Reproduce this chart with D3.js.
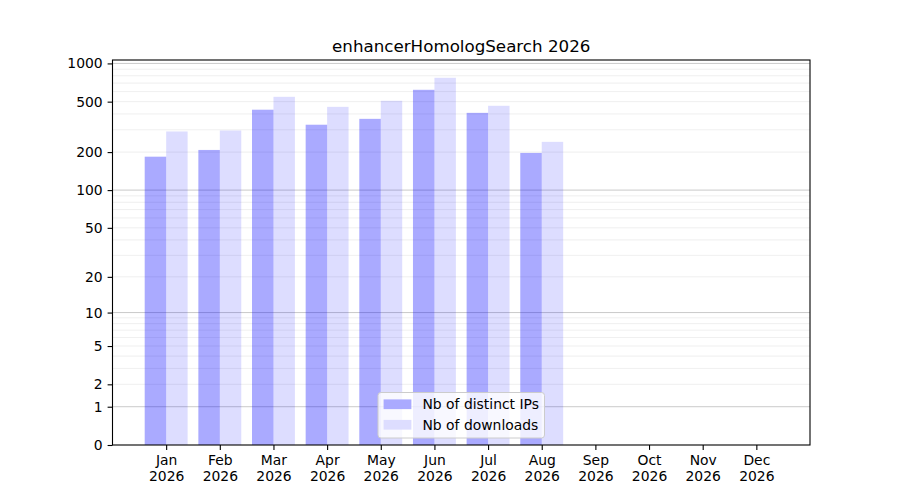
<!DOCTYPE html>
<html>
<head>
<meta charset="UTF-8">
<title>enhancerHomologSearch 2026</title>
<script src="https://cdn.jsdelivr.net/npm/d3@7"></script>
<style>
	body { margin: 0; background: #fff; }
	svg, .axis { font-family: "DejaVu Sans", sans-serif; }
	.axis path, .axis line { stroke: #000; stroke-width: 1.1px; }
	.axis text { font-size: 13.9px; fill: #000; }
</style>
</head>
<body>
<div id="chart"></div>
<script>
// values
var months = ["Jan", "Feb", "Mar", "Apr", "May", "Jun", "Jul", "Aug", "Sep", "Oct", "Nov", "Dec"];
var year = "2026";
var distinctIPs = [184, 208, 432, 329, 366, 620, 408, 197];
var downloads = [291, 296, 546, 455, 508, 771, 464, 241];
var yTicks = [0, 1, 2, 5, 10, 20, 50, 100, 200, 500, 1000];
var majorGrid = [1, 10, 100, 1000];
var minorGrid = [2, 3, 4, 5, 6, 7, 8, 9, 20, 30, 40, 50, 60, 70, 80, 90, 200, 300, 400, 500, 600, 700, 800, 900];
var seriesNames = ["Nb of distinct IPs", "Nb of downloads"];
var seriesColors = ["#aaaaff", "#ddddff"];

var width = 900, height = 500;
// plot area (don't call it "top", that's window.top)
var pLeft = 112.5, pRight = 810, pTop = 60, pBottom = 445;

var svg = d3.select("#chart").append("svg")
	.attr("width", width)
	.attr("height", height);

// log(1+y) scale, same as symlog with constant 1
var y = d3.scaleSymlog().constant(1)
	.domain([0, 1064])
	.range([pBottom, pTop]);

var x = d3.scaleLinear()
	.domain([-1, 12])
	.range([pLeft, pRight]);

// grid first, bars are see-through like the original
svg.append("g").selectAll("line")
	.data(minorGrid)
	.enter().append("line")
		.attr("x1", pLeft).attr("x2", pRight)
		.attr("y1", function(d){ return y(d); })
		.attr("y2", function(d){ return y(d); })
		.attr("stroke", "#ebebeb")
		.attr("stroke-width", 0.8);

svg.append("g").selectAll("line")
	.data(majorGrid)
	.enter().append("line")
		.attr("x1", pLeft).attr("x2", pRight)
		.attr("y1", function(d){ return y(d); })
		.attr("y2", function(d){ return y(d); })
		.attr("stroke", "#bcbcbc")
		.attr("stroke-width", 0.8);

// bars
var barW = 0.4;
svg.append("g").selectAll("rect")
	.data(distinctIPs)
	.enter().append("rect")
		.attr("x", function(d, i){ return x(i - barW); })
		.attr("width", x(barW) - x(0))
		.attr("y", function(d){ return y(d); })
		.attr("height", function(d){ return pBottom - y(d); })
		.attr("fill", "blue")
		.attr("fill-opacity", 1/3);

svg.append("g").selectAll("rect")
	.data(downloads)
	.enter().append("rect")
		.attr("x", function(d, i){ return x(i); })
		.attr("width", x(barW) - x(0))
		.attr("y", function(d){ return y(d); })
		.attr("height", function(d){ return pBottom - y(d); })
		.attr("fill", "blue")
		.attr("fill-opacity", 0.133);

// axes
var xAxis = d3.axisBottom(x)
	.tickValues(d3.range(months.length))
	.tickSize(4.9)
	.tickPadding(4.9)
	.tickFormat(function(d){ return months[d]; });

var gx = svg.append("g")
	.attr("class", "axis")
	.attr("transform", "translate(0," + pBottom + ")")
	.call(xAxis);
gx.select(".domain").remove();
gx.selectAll(".tick text").each(function(d){
	var t = d3.select(this);
	t.text(null);
	t.append("tspan").attr("x", 0).attr("dy", "0.71em").text(months[d]);
	t.append("tspan").attr("x", 0).attr("dy", "1.15em").text(year);
});

var yAxis = d3.axisLeft(y)
	.tickValues(yTicks)
	.tickSize(4.9)
	.tickPadding(4.9)
	.tickFormat(d3.format("d"));

var gy = svg.append("g")
	.attr("class", "axis")
	.attr("transform", "translate(" + pLeft + ",0)")
	.call(yAxis);
gy.select(".domain").remove();

// frame
svg.append("rect")
	.attr("x", pLeft).attr("y", pTop)
	.attr("width", pRight - pLeft).attr("height", pBottom - pTop)
	.attr("fill", "none")
	.attr("stroke", "#000")
	.attr("stroke-width", 1.1);

// title
svg.append("text")
	.attr("x", (pLeft + pRight) / 2)
	.attr("y", pTop - 8.3)
	.attr("text-anchor", "middle")
	.attr("font-size", "16.7px")
	.text("enhancerHomologSearch " + year);

// legend, lower center
var fs = 13.9;
var legend = svg.append("g");
var box = legend.append("rect")
	.attr("fill", "#fff")
	.attr("fill-opacity", 0.8)
	.attr("stroke", "#cccccc")
	.attr("stroke-width", 1)
	.attr("rx", 3);
var items = legend.selectAll("g.item")
	.data(seriesNames)
	.enter().append("g")
		.attr("class", "item");
items.append("rect")
	.attr("x", 0).attr("y", -4.9)
	.attr("width", 27.8).attr("height", 9.7)
	.attr("fill", function(d, i){ return seriesColors[i]; });
items.append("text")
	.attr("x", 27.8 + 11.1)
	.attr("y", 0)
	.attr("dy", "0.35em")
	.attr("font-size", fs + "px")
	.text(function(d){ return d; });

var textW = d3.max(items.selectAll("text").nodes(), function(n){ return n.getComputedTextLength(); });
var boxW = 5.6 + 27.8 + 11.1 + textW + 5.6;
var boxH = 45.5;
var boxX = (pLeft + pRight) / 2 - boxW / 2;
var boxY = pBottom - 7 - boxH;
box.attr("x", boxX).attr("y", boxY).attr("width", boxW).attr("height", boxH);
items.attr("transform", function(d, i){
	return "translate(" + (boxX + 5.6) + "," + (boxY + 11.8 + i * 20.5) + ")";
});
</script>
</body>
</html>
